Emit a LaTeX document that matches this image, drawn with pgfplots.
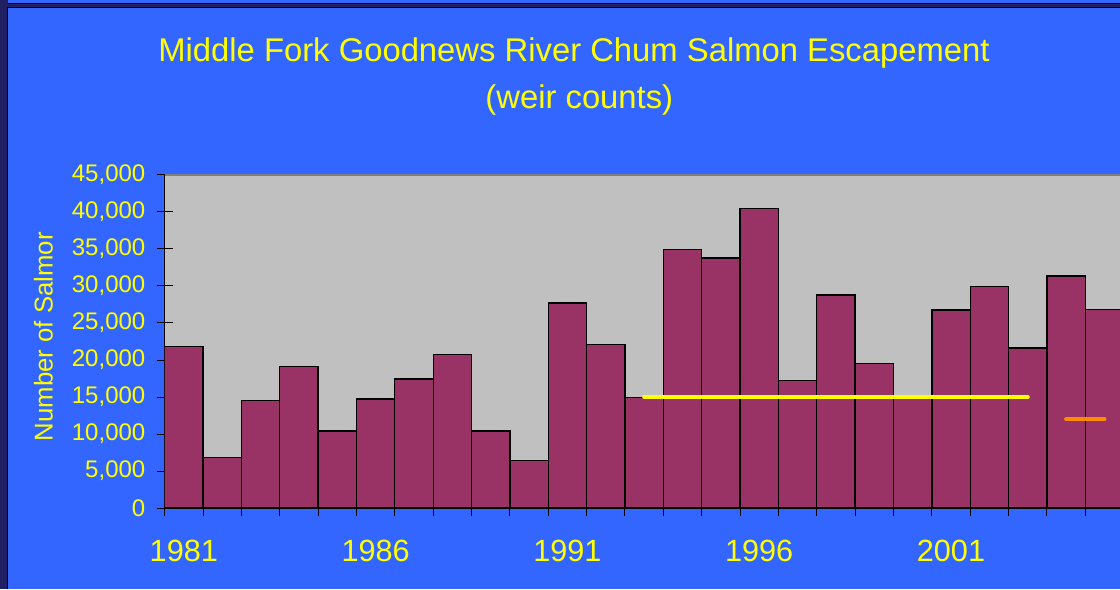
\documentclass[border=0pt]{standalone}
\usepackage{pgfplots}
\pgfplotsset{compat=1.18}
\usepackage{fontspec}
\setmainfont{Liberation Sans}

\definecolor{bgblue}{HTML}{3366FF}
\definecolor{navy}{HTML}{202062}
\definecolor{plotgray}{HTML}{C0C0C0}
\definecolor{barred}{HTML}{993366}
\definecolor{txtyellow}{HTML}{FFFF00}
\definecolor{lineorange}{HTML}{FF8C00}

% escapement, weir counts
\pgfplotstableread{
year count
1981 21800
1982 6850
1983 14500
1984 19100
1985 10400
1986 14730
1987 17430
1988 20770
1989 10400
1990 6440
1991 27700
1992 22050
1993 14950
1994 34900
1995 33800
1996 40500
1997 17200
1998 28800
1999 19550
2000 14900
2001 26750
2002 29900
2003 21600
2004 31350
2005 26800
}\escapement

\begin{document}
\begin{tikzpicture}
\path[use as bounding box] (0,0) rectangle (840pt,441.75pt);
\clip (0,0) rectangle (840pt,441.75pt);
% slide background and frame
\fill[bgblue] (0,0) rectangle (840pt,441.75pt);
\fill[navy] (0,0) rectangle (5.625pt,441.75pt);
\fill[navy] (0,435.75pt) rectangle (840pt,439.5pt);
\draw[black, line width=0.75pt] (5.625pt,439.125pt) -- (840pt,439.125pt);
\draw[black, line width=0.75pt] (5.625pt,0) -- (5.625pt,436.125pt) -- (840pt,436.125pt);

\node[anchor=base, text=txtyellow, font=\fontsize{24.6}{30}\selectfont]
  at (430.5pt,395.25pt) {Middle Fork Goodnews River Chum Salmon Escapement};
\node[anchor=base, text=txtyellow, font=\fontsize{24.6}{30}\selectfont]
  at (434.5pt,360pt) {(weir counts)};

\begin{axis}[
  at={(123.5pt,60.75pt)}, anchor=south west,
  scale only axis, width=719.25pt, height=249.75pt,
  xmin=1980.5, xmax=2005.5, ymin=0, ymax=45000,
  axis background/.style={fill=plotgray},
  axis x line*=bottom, axis y line*=left,
  x axis line style={-, line width=1.2pt},
  y axis line style={-, line width=0.8pt},
  tick align=center, major tick length=12pt,
  tick style={black, line width=0.75pt},
  % ticks sit between the bars, labels are moved to the bar centres
  xtick={1980.5,1981.5,...,2005.5},
  xticklabels={1981,,,,,1986,,,,,1991,,,,,1996,,,,,2001},
  xticklabel style={text=txtyellow, font=\fontsize{23}{27}\selectfont,
    xshift=14.39pt, yshift=-14.5pt},
  ytick={0,5000,...,45000},
  scaled y ticks=false,
  yticklabel style={text=txtyellow, font=\fontsize{18}{22}\selectfont, xshift=-5pt,
    /pgf/number format/.cd, fixed, 1000 sep={,}, assume math mode=true},
  ylabel={Number of Salmor},
  ylabel style={at={(axis description cs:-0.1264,0.5144)}, anchor=center,
    text=txtyellow, font=\fontsize{19.3}{23}\selectfont},
]
\addplot[ybar, bar width=1, bar shift=0pt, fill=barred, draw=black, line width=1pt]
  table[x=year, y=count] {\escapement};
\addplot[sharp plot, no marks, color=txtyellow, line width=3pt, line cap=round]
  coordinates {(1993,15000) (2003,15000)};
\addplot[sharp plot, no marks, color=lineorange, line width=3pt, line cap=round]
  coordinates {(2004,12000) (2005,12000)};
\draw[gray, line width=1.1pt] (rel axis cs:0,1) -- (rel axis cs:1,1);
\end{axis}
\end{tikzpicture}
\end{document}
